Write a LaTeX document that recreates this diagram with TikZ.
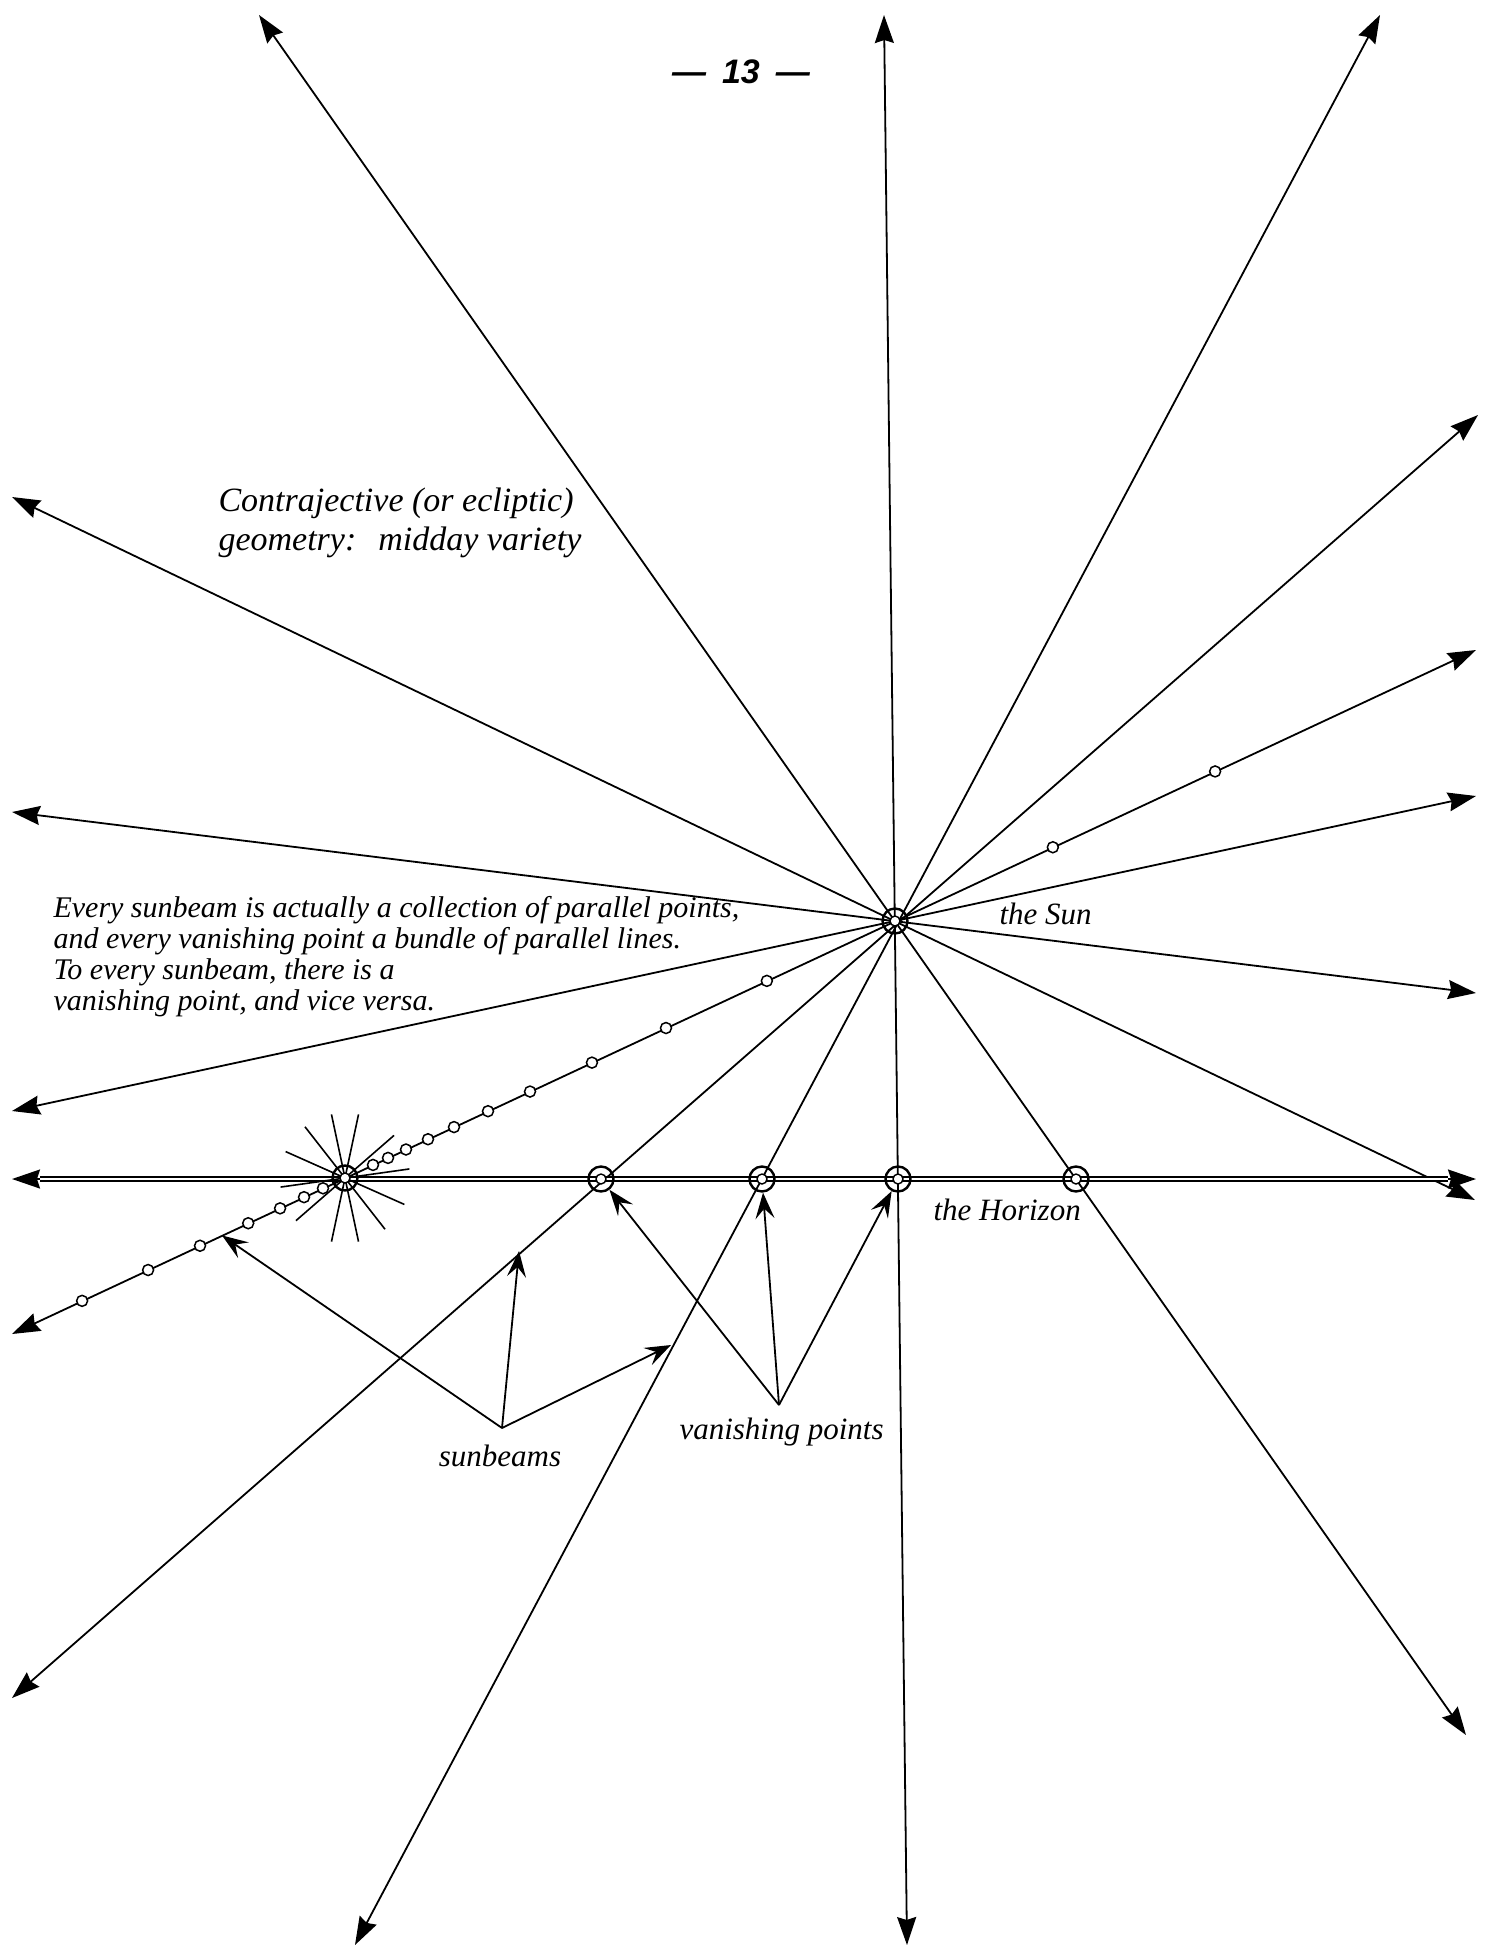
\documentclass[tikz,border=0pt]{standalone}
\usepackage{fontspec}
\usetikzlibrary{arrows.meta,calc}
\setmainfont{Liberation Serif}
\newfontfamily\pagenumfont{Liberation Sans}
\begin{document}
\begin{tikzpicture}[x=1pt,y=-1pt,
  ray/.style={line width=1.8pt,
    {Stealth[length=28pt,width=19pt,inset=3pt]}-{Stealth[length=28pt,width=19pt,inset=3pt]}},
  hzline/.style={line width=1.6pt, double, double distance=2.2pt},
  hztip/.style={line width=1.8pt, -{Stealth[length=28pt,width=19pt,inset=3pt]}},
  spoke/.style={line width=1.6pt},
  pointer/.style={line width=1.8pt, -{Stealth[length=26pt,width=19pt,inset=10pt]}},
  ring/.style={circle, draw, line width=2.4pt, minimum size=25pt, inner sep=0pt},
  core/.style={line width=1.4pt, fill=white},
  dot/.style={circle, draw, line width=1.5pt, fill=white, minimum size=11pt, inner sep=0pt},
  lbl/.style={font=\fontsize{31}{37}\selectfont\itshape},
  ttl/.style={font=\fontsize{34}{40}\selectfont\itshape, anchor=base west},
  blk/.style={font=\fontsize{30}{31}\selectfont\itshape, anchor=base west}
]
\useasboundingbox[fill=white] (0,0) rectangle (1493,1952);

% key points
\coordinate (S0) at (895,921);
\coordinate (Q0) at (345,1178);

% line ends
\coordinate (A1) at (259,15);   \coordinate (A2) at (1466,1735);
\coordinate (B1) at (884,15);   \coordinate (B2) at (907,1945);
\coordinate (C1) at (1380,15);  \coordinate (C2) at (355,1945);
\coordinate (D1) at (1478,415); \coordinate (D2) at (12,1698);
\coordinate (E1) at (1476,650); \coordinate (E2) at (12,1334);
\coordinate (F1) at (1476,796); \coordinate (F2) at (12,1111);
\coordinate (G1) at (1476,993); \coordinate (G2) at (12,812);
\coordinate (H1) at (1475,1200);\coordinate (H2) at (12,497);
\coordinate (HL) at (12,1179);  \coordinate (HR) at (1476,1179);
\coordinate (HLi) at (40,1179); \coordinate (HRi) at (1448,1179);

% rays through the Sun
\foreach \l in {A,B,C,D,E,F,G,H}{
  \draw[ray] (\l1) -- (\l2);
}

% the Horizon
\draw[hzline] (HLi) -- (HRi);
\draw[hztip] (HLi) -- (HL);
\draw[hztip] (HRi) -- (HR);

% starburst at the vanishing point of the dotted sunbeam
\foreach \a in {8,41,78,102,128,156}{
  \draw[spoke] ($(Q0)+(-\a:65)$) -- ($(Q0)+(180-\a:65)$);
}

% points on the dotted sunbeam
\foreach \t [count=\i] in {-0.478,-0.358,-0.2636,-0.176,-0.118,-0.0745,-0.04,
    0.0509,0.0782,0.1109,0.1509,0.1982,0.26,0.3364,0.449,0.5836,0.767,1.287,1.582}{
  \node[dot] (d\i) at ($(Q0)!\t!(S0)$) {};
}

% rings
\node[ring] (S) at (S0) {};
\node[ring] (Q) at (Q0) {};
\node[ring] (P1) at (601,1179) {};
\node[ring] (P2) at (762,1179) {};
\node[ring] (P3) at (898,1179) {};
\node[ring] (P4) at (1076,1179) {};
\foreach \n in {S,Q,P1,P2,P3,P4}{
  \draw[core] (\n.center) circle (5pt);
}

% pointers
\coordinate (J1) at (502,1428);
\coordinate (T1) at ($(Q0)!-0.2236!(S0)$);
\coordinate (T2) at (519,1251);
\coordinate (T3) at (671,1345);
\draw[pointer] (J1) -- (T1);
\draw[pointer] (J1) -- (T2);
\draw[pointer] (J1) -- (T3);
\coordinate (J2) at (779,1405);
\draw[pointer] (J2) -- (P1);
\draw[pointer] (J2) -- (P2);
\draw[pointer] (J2) -- (P3);

% texts
\node[anchor=base, font=\fontsize{34}{40}\selectfont\pagenumfont\bfseries\itshape] (pg) at (741,83) {—\hspace{16pt}13\hspace{16pt}—};
\node[ttl] (t1) at (215,511) {Contrajective (or ecliptic)};
\node[ttl] (t2) at (215,550) {geometry:\hspace{22pt}midday variety};
\node[blk] (b1) at (50,917) {Every sunbeam is actually a collection of parallel points,};
\node[blk] (b2) at (50,948) {and every vanishing point a bundle of parallel lines.};
\node[blk] (b3) at (50,979) {To every sunbeam, there is a};
\node[blk] (b4) at (50,1010) {vanishing point, and vice versa.};
\node[lbl, anchor=base west] (sun) at (996,924) {the Sun};
\node[lbl, anchor=base west] (hor) at (930,1220) {the Horizon};
\node[lbl, anchor=base] (sb) at (500,1466) {sunbeams};
\node[lbl, anchor=base west] (vp) at (676,1439) {vanishing points};
\end{tikzpicture}
\end{document}
